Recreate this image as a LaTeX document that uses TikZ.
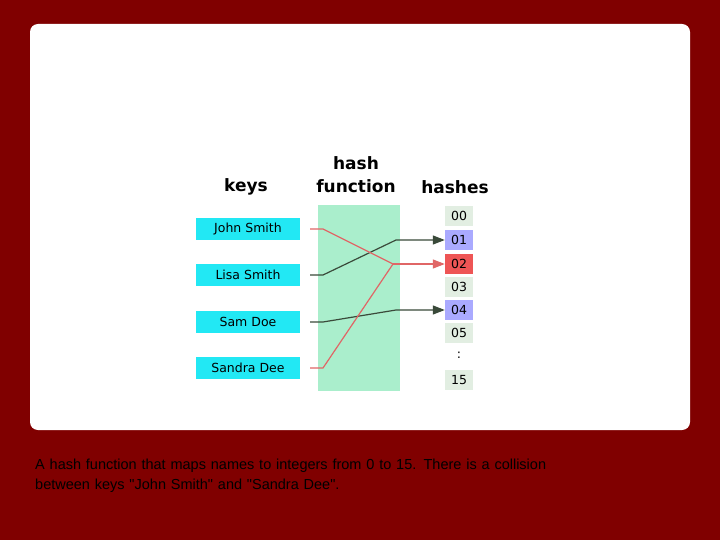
\documentclass[tikz,border=0pt]{standalone}
\usepackage{fontspec}
\setmainfont{DejaVu Sans}
\newfontfamily\capfont{Liberation Sans}
\usetikzlibrary{arrows.meta}
\definecolor{bgred}{HTML}{800000}
\definecolor{keyc}{HTML}{22E8F4}
\definecolor{hfc}{HTML}{AAEECC}
\definecolor{hgray}{HTML}{E2EEE2}
\definecolor{hblue}{HTML}{AAAAFF}
\definecolor{hred}{HTML}{EE5555}
\definecolor{lred}{HTML}{E06666}
\definecolor{ldark}{HTML}{3A4A3A}
\tikzset{
 keybox/.style={fill=keyc,minimum width=104pt,minimum height=22pt,inner sep=0pt,font=\fontsize{12.5}{14}\selectfont},
 hbox/.style={minimum width=28pt,minimum height=20pt,inner sep=0pt,font=\fontsize{12.5}{14}\selectfont},
 title/.style={font=\bfseries\fontsize{17}{23}\selectfont,align=center},
 redl/.style={draw=lred,line width=1.2pt},
 darkl/.style={draw=ldark,line width=1.2pt},
 arr/.style={-{Triangle[length=12pt,width=9pt]}}
}
\begin{document}
\begin{tikzpicture}[x=1pt,y=-1pt]
\useasboundingbox (0,0) rectangle (720,540);
\fill[bgred] (0,0) rectangle (720,540);
\fill[white,rounded corners=8pt] (30,24) rectangle (690,430);
\fill[hfc] (318,205) rectangle (400,391);
\node[title] (tk) at (246,187) {keys};
\node[title] (th) at (356,175) {hash\\function};
\node[title] (ts) at (455,187) {hashes};
\node[keybox] (k1) at (248,229) {John Smith};
\node[keybox] (k2) at (248,275) {Lisa Smith};
\node[keybox] (k3) at (248,322) {Sam Doe};
\node[keybox] (k4) at (248,368) {Sandra Dee};
\node[hbox,fill=hgray] (h0) at (459,216) {00};
\node[hbox,fill=hblue] (h1) at (459,240) {01};
\node[hbox,fill=hred] (h2) at (459,264) {02};
\node[hbox,fill=hgray] (h3) at (459,287) {03};
\node[hbox,fill=hblue] (h4) at (459,310) {04};
\node[hbox,fill=hgray] (h5) at (459,333) {05};
\node[font=\fontsize{12.5}{14}\selectfont] (hd) at (459,355) {:};
\node[hbox,fill=hgray] (h15) at (459,380) {15};
\coordinate (a1) at (310,229); \coordinate (b1) at (323,229);
\coordinate (a2) at (310,275); \coordinate (b2) at (323,275);
\coordinate (a3) at (310,322); \coordinate (b3) at (323,322);
\coordinate (a4) at (310,368); \coordinate (b4) at (323,368);
\coordinate (m1) at (396,240); \coordinate (m2) at (393,264); \coordinate (m4) at (396,310);
\draw[darkl,arr] (a2) -- (b2) -- (m1) -- (h1.west);
\draw[darkl,arr] (a3) -- (b3) -- (m4) -- (h4.west);
\draw[redl] (a1) -- (b1) -- (m2);
\draw[redl] (a4) -- (b4) -- (m2);
\draw[redl,arr] (m2) -- (h2.west);
\node[font=\capfont\fontsize{14.5}{20}\selectfont,anchor=north west,align=left,text width=660pt,inner sep=0pt] (cap) at (35,459) {A hash function that maps names to integers from 0 to 15. There is a collision\\between keys "John Smith" and "Sandra Dee".};
\end{tikzpicture}
\end{document}
